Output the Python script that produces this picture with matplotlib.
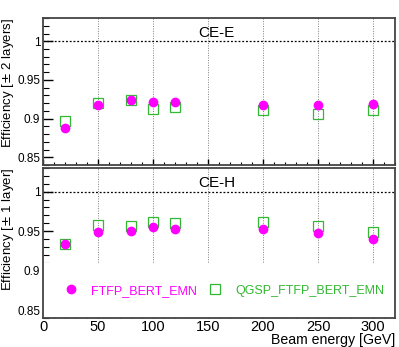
import numpy as np
import matplotlib
matplotlib.use('Agg')
import matplotlib.pyplot as plt
from matplotlib.ticker import MultipleLocator, FuncFormatter

plt.rcParams['font.family'] = ['Liberation Sans', 'DejaVu Sans']

energy = [20, 50, 80, 100, 120, 200, 250, 300]

# CE-E, +-2 layers
ee_ftfp = [0.888, 0.917, 0.924, 0.922, 0.922, 0.917, 0.917, 0.919]
ee_qgsp = [0.897, 0.920, 0.924, 0.912, 0.915, 0.911, 0.906, 0.911]

# CE-H, +-1 layer
eh_ftfp = [0.934, 0.949, 0.950, 0.955, 0.953, 0.953, 0.948, 0.940]
eh_qgsp = [0.934, 0.958, 0.957, 0.962, 0.960, 0.962, 0.956, 0.949]

labels = ['FTFP_BERT_EMN', 'QGSP_FTFP_BERT_EMN']
panel_names = ['CE-E', 'CE-H']
ylabels = [r'Efficiency [$\pm$ 2 layers]', r'Efficiency [$\pm$ 1 layer]']
grid_x = [50, 100, 150, 200, 250, 300]

magenta = '#ff00ff'
green = '#33b833'

fig = plt.figure(figsize=(3.99, 3.47), dpi=100)
ax_top = fig.add_axes([0.108, 0.5245, 0.882, 0.4235])
ax_bot = fig.add_axes([0.108, 0.0836, 0.882, 0.4324])

panels = [(ax_top, ee_ftfp, ee_qgsp), (ax_bot, eh_ftfp, eh_qgsp)]

for i, (ax, ftfp, qgsp) in enumerate(panels):
    for gx in grid_x:
        ax.axvline(gx, color='#808080', ls=(0, (1, 1.5)), lw=0.7, zorder=1)
    ax.axhline(1.0, color='black', ls=(0, (1.5, 1.5)), lw=0.9, zorder=1)

    ax.plot(energy, ftfp, 'o', color=magenta, ms=6, mec=magenta, zorder=4, label=labels[0])
    ax.plot(energy, qgsp, 's', mfc='none', mec=green, ms=7, mew=0.9, zorder=3, label=labels[1])

    ax.set_xlim(0, 320)
    ax.set_ylim(0.84, 1.03)
    ax.xaxis.set_major_locator(MultipleLocator(50))
    ax.xaxis.set_minor_locator(MultipleLocator(10))
    ax.yaxis.set_major_locator(MultipleLocator(0.05))
    ax.yaxis.set_minor_locator(MultipleLocator(0.01))
    ax.yaxis.set_major_formatter(FuncFormatter(lambda v, p: '%g' % round(v, 3)))
    ax.tick_params(axis='y', which='major', direction='in', length=7, width=1, labelsize=8.5, pad=2)
    ax.tick_params(axis='y', which='minor', direction='in', length=4, width=0.8)
    ax.tick_params(axis='x', which='major', direction='in', length=4, width=1, labelsize=10.5, pad=1.5)
    ax.tick_params(axis='x', which='minor', direction='in', length=2.5, width=0.8)
    for sp in ax.spines.values():
        sp.set_color('#444444')
        sp.set_linewidth(1.3)

    ax.set_ylabel(ylabels[i], loc='top', fontsize=9.5)
    ax.yaxis.set_label_coords(-0.077, 1.0)
    ax.text(0.44, 0.90, panel_names[i], transform=ax.transAxes, fontsize=11,
            ha='left', va='center')

ax_top.tick_params(axis='x', labelbottom=False)
ax_bot.set_xlabel('Beam energy [GeV]', loc='right', fontsize=10.2, labelpad=-1)

leg = ax_bot.legend(loc='lower left', bbox_to_anchor=(0.0, 0.0), ncol=2,
                    frameon=True, facecolor='white', edgecolor='none', framealpha=1,
                    fontsize=9, handlelength=1.0, handletextpad=1.1, columnspacing=1.0,
                    borderpad=1.7, borderaxespad=0, labelcolor=[magenta, green])
leg.get_frame().set_boxstyle('square', pad=0)
leg.set_zorder(2)

fig.savefig('out.png', dpi=100)
